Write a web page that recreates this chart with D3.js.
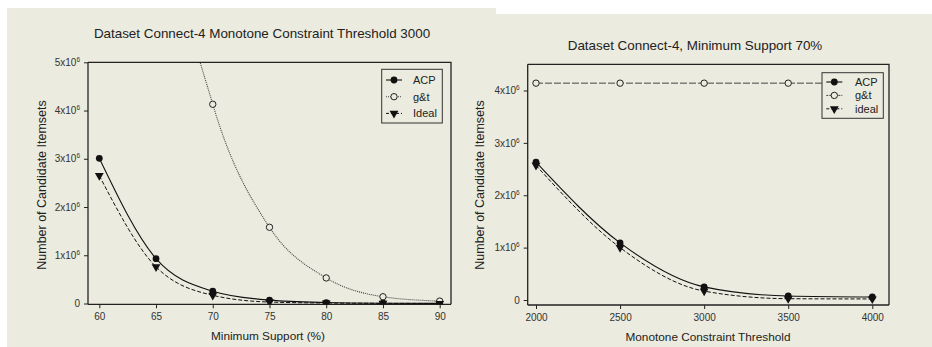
<!DOCTYPE html>
<html>
<head>
<meta charset="utf-8">
<script src="https://cdn.jsdelivr.net/npm/d3@7.9.0/dist/d3.min.js"></script>
<style>
  body { margin: 0; background: #fff; }
  svg { display: block; font-family: "Liberation Sans", Arial, sans-serif; }
</style>
</head>
<body>
<svg id="chart" width="932" height="347"></svg>
<script>
// ── left chart: minimum support ───────────────────────────────
const supportX   = [60, 65, 70, 75, 80, 85, 90];
const supportAcp = [3.01e6, 0.93e6, 0.255e6, 0.07e6, 0.02e6, 0.005e6, 0.002e6];
const supportGt  = [22e6, 9.5e6, 4.13e6, 1.58e6, 0.53e6, 0.14e6, 0.05e6];
const supportIdeal = [2.65e6, 0.76e6, 0.17e6, 0.03e6, 0.01e6, 0.003e6, 0.001e6];
const supportYTicks = [0, 1e6, 2e6, 3e6, 4e6, 5e6];

// ── right chart: monotone threshold ──────────────────────────
const thresholdX   = [2000, 2500, 3000, 3500, 4000];
const thresholdAcp = [2.63e6, 1.09e6, 0.25e6, 0.076e6, 0.057e6];
const thresholdGt  = [4.14e6, 4.14e6, 4.14e6, 4.14e6, 4.14e6];
const thresholdIdeal = [2.57e6, 1.0e6, 0.17e6, 0.025e6, 0.02e6];
const thresholdYTicks = [0, 1e6, 2e6, 3e6, 4e6];

const svg = d3.select('#chart');
const bg = '#ebebdf';

// beige panels (two scanned figures overlapping)
svg.append('rect').attr('x', 7).attr('y', 8).attr('width', 489).attr('height', 339).attr('fill', bg);
svg.append('rect').attr('x', 470).attr('y', 14).attr('width', 462).attr('height', 333).attr('fill', bg);

function supLabel(sel, d) {
  if (d === 0) { sel.text('0'); return; }
  sel.text(null);
  sel.append('tspan').text((d / 1e6) + 'x10');
  sel.append('tspan').attr('dy', -4).attr('font-size', 6.5).text('6');
}

function drawPanel(cfg) {
  const g = svg.append('g');
  const { frame } = cfg;

  const x = d3.scaleLinear().domain(cfg.xDomain).range(cfg.xRange);
  const y = d3.scaleLinear().domain(cfg.yDomain).range(cfg.yRange);

  const clipId = 'clip' + cfg.id;
  g.append('clipPath').attr('id', clipId)
    .append('rect')
      .attr('x', frame.left).attr('y', frame.top)
      .attr('width', frame.right - frame.left)
      .attr('height', frame.bottom - frame.top);

  // frame: top + right lines
  g.append('path')
    .attr('d', `M${frame.left},${frame.top}H${frame.right}V${frame.bottom}`)
    .attr('fill', 'none').attr('stroke', '#222').attr('stroke-width', 1.3);

  // axes
  const yAxis = d3.axisLeft(y).tickValues(cfg.yTicks).tickSize(4).tickSizeOuter(0).tickPadding(4).tickFormat(() => '');
  const yg = g.append('g').attr('transform', `translate(${frame.left},0)`).call(yAxis);
  yg.select('.domain').attr('d', `M0,${frame.top}V${frame.bottom}`).attr('stroke', '#222').attr('stroke-width', 1.3);
  yg.selectAll('.tick line').attr('stroke', '#222');
  yg.selectAll('.tick text')
    .attr('font-size', 10).attr('fill', '#333')
    .each(function(d) { supLabel(d3.select(this), d); });

  const xAxis = d3.axisBottom(x).tickValues(cfg.xData).tickSize(4).tickSizeOuter(0).tickPadding(5)
    .tickFormat(d3.format('d'));
  const xg = g.append('g').attr('transform', `translate(0,${frame.bottom})`).call(xAxis);
  xg.select('.domain').attr('d', `M${frame.left},0H${frame.right}`).attr('stroke', '#222').attr('stroke-width', 1.3);
  xg.selectAll('.tick line').attr('stroke', '#222');
  xg.selectAll('.tick text').attr('font-size', 10).attr('fill', '#333');

  // titles
  g.append('text').attr('x', cfg.titleX).attr('y', cfg.titleY).attr('text-anchor', 'middle')
    .attr('font-size', 13.4).attr('fill', '#222').text(cfg.title);
  g.append('text').attr('x', cfg.xLabelX).attr('y', cfg.xLabelY).attr('text-anchor', 'middle')
    .attr('font-size', 11.8).attr('fill', '#222').text(cfg.xLabel);
  g.append('text').attr('transform', `translate(${cfg.yLabelX},${cfg.yLabelY}) rotate(-90)`)
    .attr('text-anchor', 'middle').attr('font-size', 12.5).attr('fill', '#222').text('Number of Candidate Itemsets');

  const plot = g.append('g').attr('clip-path', `url(#${clipId})`);
  const line = d3.line().x(d => x(d[0])).y(d => y(d[1])).curve(d3.curveMonotoneX);

  cfg.series.forEach(s => {
    const pts = cfg.xData.map((v, i) => [v, s.values[i]]);
    plot.append('path').datum(pts)
      .attr('d', line).attr('fill', 'none')
      .attr('stroke', s.stroke).attr('stroke-width', s.width)
      .attr('stroke-dasharray', s.dash);
    const m = plot.append('g');
    pts.forEach(p => drawMarker(m, s.marker, x(p[0]), y(p[1])));
  });

  // legend (opaque box covers lines behind it)
  const L = cfg.legend;
  g.append('rect').attr('x', L.x).attr('y', L.y).attr('width', L.w).attr('height', L.h)
    .attr('fill', bg).attr('stroke', '#333').attr('stroke-width', 1);
  cfg.series.forEach((s, i) => {
    const cy = L.y + L.first + i * L.step;
    g.append('line').attr('x1', L.mx - 8).attr('x2', L.mx + 8).attr('y1', cy).attr('y2', cy)
      .attr('stroke', s.stroke).attr('stroke-width', s.width).attr('stroke-dasharray', s.legendDash);
    drawMarker(g, s.marker, L.mx, cy);
    g.append('text').attr('x', L.tx).attr('y', cy).attr('dy', '0.35em')
      .attr('font-size', 11).attr('fill', '#222').text(s.name);
  });
}

function drawMarker(g, type, cx, cy) {
  if (type === 'filled') {
    g.append('circle').attr('cx', cx).attr('cy', cy).attr('r', 3.4).attr('fill', '#111');
  } else if (type === 'open') {
    g.append('circle').attr('cx', cx).attr('cy', cy).attr('r', 3.2)
      .attr('fill', bg).attr('stroke', '#222').attr('stroke-width', 1);
  } else {
    const tri = d3.symbol(d3.symbolTriangle, 34)();
    g.append('path').attr('d', tri)
      .attr('transform', `translate(${cx},${cy}) rotate(180)`).attr('fill', '#111');
  }
}

drawPanel({
  id: 'L',
  frame: { left: 88, right: 451, top: 62.3, bottom: 304.3 },
  xDomain: [60, 90], xRange: [99.3, 439.7],
  yDomain: [0, 5e6], yRange: [303.5, 62.3],
  xData: supportX, yTicks: supportYTicks,
  title: 'Dataset Connect-4 Monotone Constraint Threshold 3000', titleX: 262, titleY: 38,
  xLabel: 'Minimum Support (%)', xLabelX: 268, xLabelY: 340,
  yLabelX: 46, yLabelY: 185,
  series: [
    { name: 'ACP', values: supportAcp, marker: 'filled', stroke: '#111', width: 1.1, dash: null, legendDash: null },
    { name: 'g&t', values: supportGt, marker: 'open', stroke: '#444', width: 1.1, dash: '1,1', legendDash: '1,1' },
    { name: 'Ideal', values: supportIdeal, marker: 'tri', stroke: '#111', width: 1, dash: '4,2', legendDash: '3,2' }
  ],
  legend: { x: 381.7, y: 69.3, w: 60.6, h: 53.7, first: 10.7, step: 16.7, mx: 394, tx: 413 }
});

drawPanel({
  id: 'R',
  frame: { left: 527.7, right: 889, top: 64.3, bottom: 305 },
  xDomain: [2000, 4000], xRange: [536, 872.3],
  yDomain: [0, 4.5e6], yRange: [300, 64.3],
  xData: thresholdX, yTicks: thresholdYTicks,
  title: 'Dataset Connect-4, Minimum Support 70%', titleX: 695, titleY: 50,
  xLabel: 'Monotone Constraint Threshold', xLabelX: 708, xLabelY: 341,
  yLabelX: 484, yLabelY: 185,
  series: [
    { name: 'ACP', values: thresholdAcp, marker: 'filled', stroke: '#111', width: 1.1, dash: null, legendDash: null },
    { name: 'g&t', values: thresholdGt, marker: 'open', stroke: '#444', width: 1, dash: '7,2', legendDash: '2,1' },
    { name: 'ideal', values: thresholdIdeal, marker: 'tri', stroke: '#111', width: 1, dash: '4,2', legendDash: '3,2' }
  ],
  legend: { x: 822, y: 72.7, w: 61.3, h: 45.6, first: 9.3, step: 13.4, mx: 834.3, tx: 855 }
});
</script>
</body>
</html>
